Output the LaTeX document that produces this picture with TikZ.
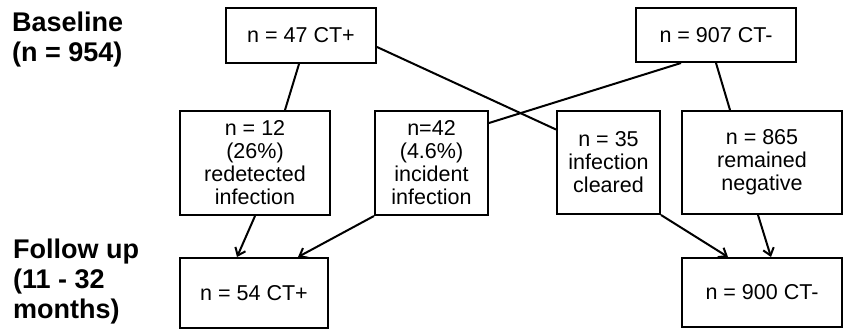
\documentclass[tikz,border=0pt]{standalone}
\usepackage{fontspec}
\setmainfont{Liberation Sans}
\usetikzlibrary{arrows.meta}
\begin{document}
\begin{tikzpicture}[x=1pt,y=-1pt,
  box/.style={draw, line width=2pt, rectangle, inner sep=0pt, align=center,
    font=\fontsize{21.5}{23}\selectfont},
  lbl/.style={anchor=west, align=left, inner sep=0pt, font=\fontsize{27}{30}\selectfont\bfseries},
  conn/.style={line width=2pt},
  arr/.style={line width=2pt, -{Straight Barb[length=7pt,width=11pt,line width=2pt]}}]
\useasboundingbox (0,0) rectangle (846,329);
\node[lbl] (base) at (12,40) {Baseline\\(n = 954)};
\node[lbl] (fol) at (13,282) {Follow up\\(11 - 32\\months)};
\node[box, minimum width=150pt, minimum height=55pt] (b1) at (301,35.5) {n = 47 CT+};
\node[box, minimum width=160pt, minimum height=54pt] (b6) at (716,35) {n = 907 CT-};
\node[box, minimum width=150pt, minimum height=104pt] (b2) at (255,163) {n = 12\\(26\%)\\redetected\\infection};
\node[box, minimum width=113pt, minimum height=104pt] (b3) at (431.5,163) {n=42\\(4.6\%)\\incident\\infection};
\node[box, minimum width=103pt, minimum height=103pt] (b4) at (608.5,162.5) {n = 35\\infection\\cleared};
\node[box, minimum width=160pt, minimum height=103pt] (b5) at (762,162.5) {n = 865\\remained\\negative};
\node[box, minimum width=148pt, minimum height=70pt] (b7) at (254,293) {n = 54 CT+};
\node[box, minimum width=160pt, minimum height=69pt] (b8) at (762,292.5) {n = 900 CT-};
\draw[conn] ([xshift=-2pt]b1.south) -- ([xshift=30pt]b2.north);
\draw[conn] ([yshift=-11.5pt]b1.east) -- ([yshift=33pt]b4.west);
\draw[conn] ([xshift=-35pt]b6.south) -- ([yshift=40pt]b3.east);
\draw[conn] (b6.south) -- ([xshift=-32pt]b5.north);
\draw[arr] (b2.south) -- ([xshift=-17pt]b7.north);
\draw[arr] (b3.south west) -- ([xshift=44pt]b7.north);
\draw[arr] (b4.south east) -- ([xshift=-34pt]b8.north);
\draw[arr] ([xshift=-4pt]b5.south) -- ([xshift=9pt]b8.north);
\end{tikzpicture}
\end{document}
